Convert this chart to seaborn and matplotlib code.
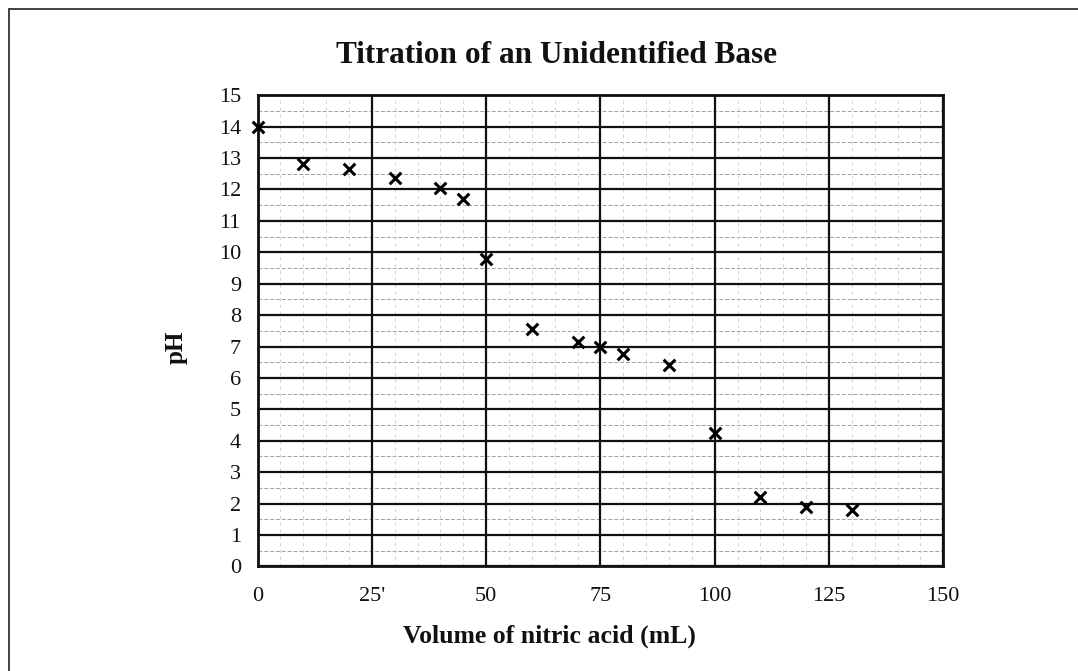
import matplotlib
matplotlib.use("Agg")
import matplotlib.pyplot as plt
import seaborn as sns
import pandas as pd
import numpy as np
from matplotlib.lines import Line2D

# titration readings
volume_ml = [0, 10, 20, 30, 40, 45, 50, 60, 70, 75, 80, 90, 100, 110, 120, 130]
ph_values = [14.0, 12.8, 12.65, 12.35, 12.05, 11.7, 9.8, 7.55, 7.15, 7.0, 6.75, 6.4, 4.25, 2.2, 1.9, 1.8]

x_ticks = [0, 25, 50, 75, 100, 125, 150]
x_tick_labels = ["0", "25'", "50", "75", "100", "125", "150"]
y_ticks = list(range(0, 16))

df = pd.DataFrame({"Volume": volume_ml, "pH": ph_values})

sns.set_theme(style="white")
plt.rcParams["font.family"] = ["Liberation Serif", "DejaVu Serif"]

fig = plt.figure(figsize=(10.78, 6.71), dpi=100)
ax = fig.add_axes([0.239, 0.156, 0.636, 0.702])

# light dashed minor grid like the scanned graph paper
for yv in np.arange(0.5, 15, 1.0):
    ax.axhline(yv, color="#a0a0a0", lw=0.7, ls=(0, (4, 2)), zorder=1)
for xv in range(5, 150, 5):
    if xv % 25:
        ax.axvline(xv, color="#d0d0d0", lw=0.7, ls=(0, (3, 4)), zorder=1)

# heavy major grid
for yv in y_ticks:
    ax.axhline(yv, color="#111111", lw=1.6, zorder=2)
for xv in x_ticks:
    ax.axvline(xv, color="#111111", lw=1.6, zorder=2)

sns.scatterplot(data=df, x="Volume", y="pH", marker="x", s=70, color="black",
                linewidth=2.2, ax=ax, zorder=5, clip_on=False)

ax.set_xlim(0, 150)
ax.set_ylim(0, 15)
ax.set_xticks(x_ticks)
ax.set_xticklabels(x_tick_labels)
ax.set_yticks(y_ticks)
ax.tick_params(axis="both", length=0, labelsize=16, colors="#111111")
ax.tick_params(axis="x", pad=15)
ax.tick_params(axis="y", pad=12)
for sp in ax.spines.values():
    sp.set_color("#111111")
    sp.set_linewidth(2.0)
ax.set_xlabel("")
ax.set_ylabel("")

fig.text(0.510, 0.051, "Volume of nitric acid (mL)", ha="center", va="center",
         fontsize=18.5, fontweight="bold", color="#111111")
fig.text(0.163, 0.483, "pH", ha="center", va="center", rotation=90,
         fontsize=18, fontweight="bold", color="#111111")
fig.text(0.516, 0.918, "Titration of an Unidentified Base", ha="center", va="center",
         fontsize=22.5, fontweight="bold", color="#111111")

# outer frame of the scanned figure (only top and left edges show)
fig.add_artist(Line2D([0.008, 1.0], [0.986, 0.986], transform=fig.transFigure,
                      color="#333333", lw=1.3))
fig.add_artist(Line2D([0.008, 0.008], [0.0, 0.986], transform=fig.transFigure,
                      color="#333333", lw=1.3))

fig.savefig("out.png", dpi=100)
